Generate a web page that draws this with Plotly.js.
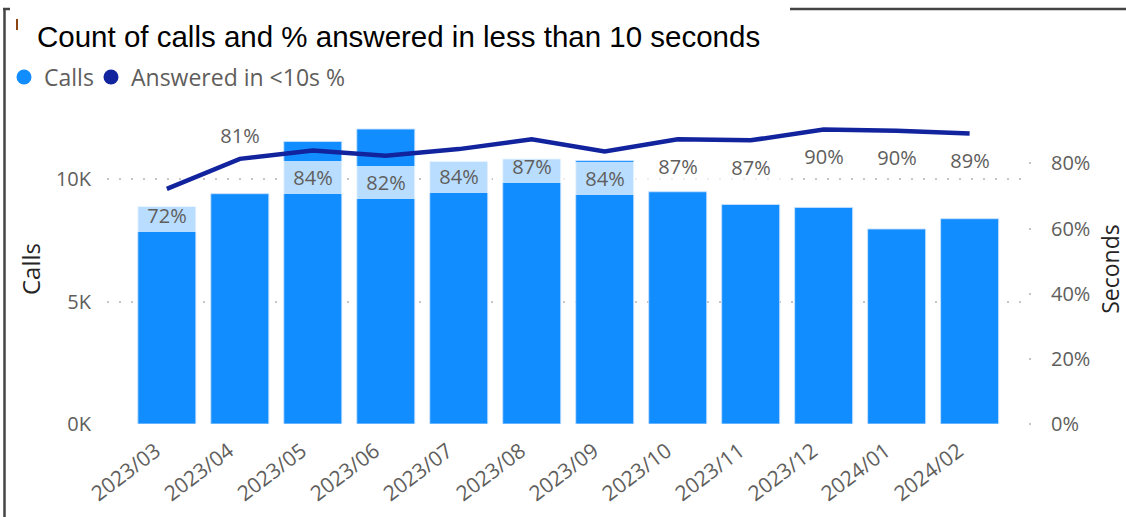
<!DOCTYPE html>
<html>
<head>
<meta charset="utf-8">
<script src="https://cdn.plot.ly/plotly-3.0.1.min.js"></script>
<style>
  html, body { margin: 0; padding: 0; background: #ffffff; }
  #chart { width: 1126px; height: 517px; }
</style>
</head>
<body>
<div id="chart"></div>
<script>
// ---- data ----
const months = ['2023/03','2023/04','2023/05','2023/06','2023/07','2023/08','2023/09','2023/10','2023/11','2023/12','2024/01','2024/02'];
const calls = [8880, 9400, 11530, 12040, 10720, 10820, 10750, 9480, 8960, 8840, 7960, 8380];
const answeredPct = [72.2, 81.4, 84.0, 82.4, 84.4, 87.4, 83.7, 87.4, 87.1, 90.4, 90.0, 89.2];
const pctLabels = answeredPct.map(v => Math.round(v) + '%');
const labelAbove = [false, true, false, false, false, false, false, false, false, false, false, false];
const callsTickVals = [0, 5000, 10000];
const callsTickText = ['0K', '5K', '10K'];
const pctTickVals = [0, 20, 40, 60, 80];
const pctTickText = ['0%', '20%', '40%', '60%', '80%'];

// ---- style / geometry ----
const W = 1126, H = 517;
const M = { l: 107, r: 98, t: 114, b: 93 };
const PW = W - M.l - M.r, PH = H - M.t - M.b;
const px = x => (x - M.l) / PW;
const py = y => (H - M.b - y) / PH;
const BAR = '#118DFF', LINE = '#12239E', GRAY = '#605E5C', DARK = '#252423';
const FONT = 'Segoe UI, Open Sans, Noto Sans, sans-serif';

const traces = [
  {
    type: 'bar', name: 'Calls', x: months, y: calls, yaxis: 'y',
    marker: { color: BAR, line: { color: 'rgba(200,225,255,0.9)', width: 1 } },
    showlegend: false, hoverinfo: 'skip'
  },
  {
    type: 'scatter', mode: 'lines', name: 'Answered in <10s %', x: months, y: answeredPct, yaxis: 'y2',
    line: { color: LINE, width: 4.5 }, showlegend: false, hoverinfo: 'skip', cliponaxis: false
  },
  {
    type: 'scatter', mode: 'markers', name: 'Calls', x: [null], y: [null],
    marker: { color: BAR, size: 15, symbol: 'circle' }, showlegend: true, legend: 'legend'
  },
  {
    type: 'scatter', mode: 'markers', name: 'Answered in <10s %', x: [null], y: [null],
    marker: { color: LINE, size: 15, symbol: 'circle' }, showlegend: true, legend: 'legend2'
  }
];

const annotations = months.map((m, i) => ({
  x: m, y: answeredPct[i], xref: 'x', yref: 'y2',
  text: pctLabels[i], showarrow: false,
  yshift: labelAbove[i] ? 23 : -27,
  width: 66, height: 33,
  bgcolor: labelAbove[i] ? 'rgba(255,255,255,0)' : 'rgba(255,255,255,0.7)',
  borderwidth: 0, borderpad: 0,
  font: { family: FONT, size: 20, color: GRAY }
}));

const shapes = [
  { type: 'line', xref: 'paper', yref: 'paper', x0: px(4.5), x1: px(4.5), y0: py(8), y1: py(517), line: { color: '#444', width: 2.5 } },
  { type: 'line', xref: 'paper', yref: 'paper', x0: px(3), x1: px(10), y0: py(9), y1: py(9), line: { color: '#444', width: 2.5 } },
  { type: 'line', xref: 'paper', yref: 'paper', x0: px(790), x1: px(1126), y0: py(9), y1: py(9), line: { color: '#444', width: 2.5 } },
  { type: 'line', xref: 'paper', yref: 'paper', x0: px(17), x1: px(17), y0: py(19), y1: py(30), line: { color: '#8B4513', width: 2 } }
];

const legendBase = {
  orientation: 'h', xref: 'container', xanchor: 'left',
  y: 1 - 77 / H, yref: 'container', yanchor: 'middle',
  font: { family: FONT, size: 23, color: GRAY },
  itemwidth: 30, bgcolor: 'rgba(0,0,0,0)'
};

const layout = {
  width: W, height: H,
  margin: M,
  paper_bgcolor: '#ffffff', plot_bgcolor: '#ffffff',
  font: { family: FONT, color: GRAY, size: 20 },
  title: {
    text: 'Count of calls and % answered in less than 10 seconds',
    x: 37 / W, xref: 'container', xanchor: 'left',
    y: 1 - 37 / H, yref: 'container', yanchor: 'middle',
    font: { family: 'Liberation Sans, Arial, sans-serif', size: 29.5, color: '#000000' }
  },
  showlegend: true,
  legend: Object.assign({}, legendBase, { x: 4 / W }),
  legend2: Object.assign({}, legendBase, { x: 91 / W }),
  bargap: 0.205,
  xaxis: {
    type: 'category', range: [-0.82, 11.8],
    tickangle: -37, tickfont: { family: FONT, size: 21, color: GRAY },
    ticklabelshift: -11, ticklabelstandoff: 10,
    showgrid: false, zeroline: false, showline: false, ticks: '',
    fixedrange: true
  },
  yaxis: {
    range: [0, PH / 24.5 * 1000],
    tickvals: callsTickVals, ticktext: callsTickText,
    tickfont: { family: FONT, size: 20, color: GRAY },
    showgrid: true, gridcolor: '#C8C6C4', gridwidth: 2, griddash: '2px,10px',
    zeroline: false, showline: false, ticks: '', ticklabelstandoff: 15,
    title: { text: 'Calls', font: { family: FONT, size: 24, color: DARK }, standoff: 8 }
  },
  yaxis2: {
    overlaying: 'y', side: 'right',
    range: [0, PH / 3.257],
    tickvals: pctTickVals, ticktext: pctTickText,
    tickfont: { family: FONT, size: 20, color: GRAY },
    showgrid: false, zeroline: false, showline: false,
    ticks: 'outside', ticklen: 2, tickwidth: 2, tickcolor: '#C8C6C4', ticklabelstandoff: 16,
    title: { text: 'Seconds', font: { family: FONT, size: 23, color: DARK }, standoff: 24 }
  },
  annotations: annotations,
  shapes: shapes
};

Plotly.newPlot('chart', traces, layout, { displayModeBar: false, staticPlot: true });
</script>
</body>
</html>
